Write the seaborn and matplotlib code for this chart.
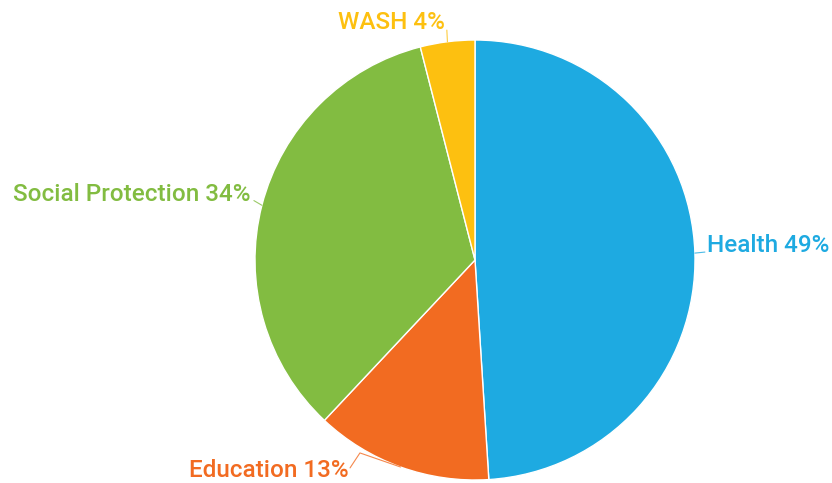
import matplotlib
matplotlib.use("Agg")
import matplotlib.pyplot as plt
import seaborn as sns
import numpy as np

categories = ["Health", "Education", "Social Protection", "WASH"]
values = [49, 13, 34, 4]
colors = ["#1EAAE1", "#F26B21", "#82BC41", "#FDC010"]

sns.set_theme(style="white")
plt.rcParams['font.family'] = ['Roboto', 'DejaVu Sans']

fig = plt.figure(figsize=(8.32, 4.83), dpi=100)
ax = fig.add_axes([255/832, 3/483, 440/832, 440/483])
palette = sns.color_palette(colors)
wedges, _ = ax.pie(values, colors=palette, startangle=90, counterclock=False,
                   radius=1, wedgeprops=dict(edgecolor="white", linewidth=1))
ax.set_xlim(-1, 1)
ax.set_ylim(-1, 1)
ax.set_aspect("equal")
ax.axis("off")

# label layout: (connector path from wedge edge, text pos, ha)
layout = {
    "Health": ([(1.045, 0.036)], (1.055, 0.064), "left"),
    "Education": ([(-0.523, -0.877), (-0.568, -0.945)], (-0.575, -0.955), "right"),
    "Social Protection": ([(-1.005, 0.27)], (-1.02, 0.296), "right"),
    "WASH": ([(-0.128, 1.045)], (-0.135, 1.08), "right"),
}
for w, cat, val, col in zip(wedges, categories, values, colors):
    ang = np.deg2rad((w.theta1 + w.theta2) / 2)
    x0, y0 = np.cos(ang), np.sin(ang)
    path, (tx, ty), ha = layout[cat]
    xs = [x0] + [p[0] for p in path]
    ys = [y0] + [p[1] for p in path]
    ax.plot(xs, ys, color=col, lw=0.8, clip_on=False, alpha=0.8)
    ax.text(tx, ty, f"{cat} {val}%", color=col, ha=ha, va="center",
            fontsize=17.5, fontweight="medium", clip_on=False)

fig.savefig("out.png", dpi=100)
